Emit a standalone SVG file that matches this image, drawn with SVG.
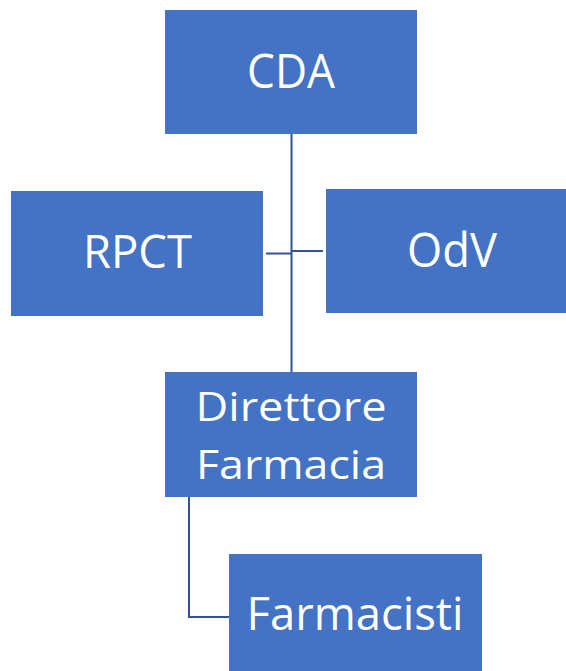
<svg xmlns="http://www.w3.org/2000/svg" width="566" height="671" viewBox="0 0 566 671">
<style>
.box{fill:#4472C4;}
.lbl{fill:#FFFFFF;font-family:"Open Sans","Noto Sans",sans-serif;text-anchor:middle;}
.conn{stroke:#2F5597;stroke-width:2;fill:none;}
</style>
<rect width="566" height="671" fill="#FFFFFF"/>
<g id="connectors">
<line class="conn" x1="291.5" y1="134" x2="291.5" y2="372"/>
<line class="conn" x1="266" y1="253.5" x2="291.5" y2="253.5"/>
<line class="conn" x1="291.5" y1="251" x2="323" y2="251"/>
<polyline class="conn" points="189,497 189,617 229,617"/>
</g>
<g id="node-cda">
<rect class="box" x="165" y="10" width="252" height="124"/>
<text class="lbl" x="291" y="88" font-size="48" textLength="88" lengthAdjust="spacingAndGlyphs">CDA</text>
</g>
<g id="node-rpct">
<rect class="box" x="11" y="191" width="252" height="125"/>
<text class="lbl" x="137.5" y="268" font-size="46" textLength="109" lengthAdjust="spacingAndGlyphs">RPCT</text>
</g>
<g id="node-odv">
<rect class="box" x="326" y="189" width="252" height="124"/>
<text class="lbl" x="452" y="267" font-size="47" textLength="90" lengthAdjust="spacingAndGlyphs">OdV</text>
</g>
<g id="node-direttore">
<rect class="box" x="165" y="372" width="252" height="125"/>
<text class="lbl" x="291" y="421" font-size="41" textLength="191" lengthAdjust="spacingAndGlyphs">Direttore</text>
<text class="lbl" x="291" y="479" font-size="41" textLength="190" lengthAdjust="spacingAndGlyphs">Farmacia</text>
</g>
<g id="node-farmacisti">
<rect class="box" x="229" y="554" width="253" height="117"/>
<text class="lbl" x="355" y="630" font-size="46" textLength="217" lengthAdjust="spacingAndGlyphs">Farmacisti</text>
</g>
</svg>
